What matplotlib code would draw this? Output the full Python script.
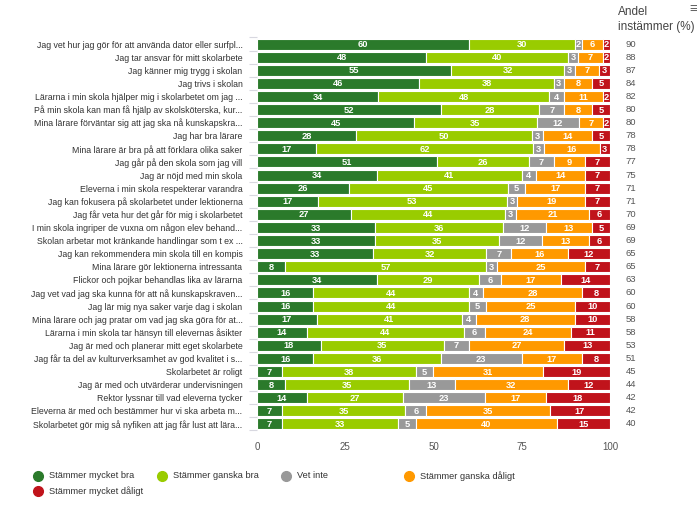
import numpy as np
import matplotlib.pyplot as plt

plt.rcParams['font.family'] = ['Liberation Sans', 'DejaVu Sans']

questions = [
    "Jag vet hur jag gör för att använda dator eller surfpl...",
    "Jag tar ansvar för mitt skolarbete",
    "Jag känner mig trygg i skolan",
    "Jag trivs i skolan",
    "Lärarna i min skola hjälper mig i skolarbetet om jag ...",
    "På min skola kan man få hjälp av skolsköterska, kur...",
    "Mina lärare förväntar sig att jag ska nå kunskapskra...",
    "Jag har bra lärare",
    "Mina lärare är bra på att förklara olika saker",
    "Jag går på den skola som jag vill",
    "Jag är nöjd med min skola",
    "Eleverna i min skola respekterar varandra",
    "Jag kan fokusera på skolarbetet under lektionerna",
    "Jag får veta hur det går för mig i skolarbetet",
    "I min skola ingriper de vuxna om någon elev behand...",
    "Skolan arbetar mot kränkande handlingar som t ex ...",
    "Jag kan rekommendera min skola till en kompis",
    "Mina lärare gör lektionerna intressanta",
    "Flickor och pojkar behandlas lika av lärarna",
    "Jag vet vad jag ska kunna för att nå kunskapskraven...",
    "Jag lär mig nya saker varje dag i skolan",
    "Mina lärare och jag pratar om vad jag ska göra för at...",
    "Lärarna i min skola tar hänsyn till elevernas åsikter",
    "Jag är med och planerar mitt eget skolarbete",
    "Jag får ta del av kulturverksamhet av god kvalitet i s...",
    "Skolarbetet är roligt",
    "Jag är med och utvärderar undervisningen",
    "Rektor lyssnar till vad eleverna tycker",
    "Eleverna är med och bestämmer hur vi ska arbeta m...",
    "Skolarbetet gör mig så nyfiken att jag får lust att lära...",
]

mycket_bra = [60, 48, 55, 46, 34, 52, 45, 28, 17, 51, 34, 26, 17, 27, 33, 33, 33, 8, 34, 16, 16, 17, 14, 18, 16, 7, 8, 14, 7, 7]
ganska_bra = [30, 40, 32, 38, 48, 28, 35, 50, 62, 26, 41, 45, 53, 44, 36, 35, 32, 57, 29, 44, 44, 41, 44, 35, 36, 38, 35, 27, 35, 33]
vet_inte = [2, 3, 3, 3, 4, 7, 12, 3, 3, 7, 4, 5, 3, 3, 12, 12, 7, 3, 6, 4, 5, 4, 6, 7, 23, 5, 13, 23, 6, 5]
ganska_daligt = [6, 7, 7, 8, 11, 8, 7, 14, 16, 9, 14, 17, 19, 21, 13, 13, 16, 25, 17, 28, 25, 28, 24, 27, 17, 31, 32, 17, 35, 40]
mycket_daligt = [2, 2, 3, 5, 2, 5, 2, 5, 3, 7, 7, 7, 7, 6, 5, 6, 12, 7, 14, 8, 10, 10, 11, 13, 8, 19, 12, 18, 17, 15]
andel = [90, 88, 87, 84, 82, 80, 80, 78, 78, 77, 75, 71, 71, 70, 69, 69, 65, 65, 63, 60, 60, 58, 58, 53, 51, 45, 44, 42, 42, 40]

series_names = ["Stämmer mycket bra", "Stämmer ganska bra", "Vet inte",
                "Stämmer ganska dåligt", "Stämmer mycket dåligt"]
colors = ["#2b7a2b", "#99cc00", "#999999", "#ff9900", "#c0131b"]

data = np.array([mycket_bra, ganska_bra, vet_inte, ganska_daligt, mycket_daligt], dtype=float)
shares = data / data.sum(axis=0) * 100

fig = plt.figure(figsize=(6.97, 5.14), dpi=100)
ax = fig.add_axes([0.3687, 0.1625, 0.5065, 0.7646])

y = np.arange(len(questions))
left = np.zeros(len(questions))
for k in range(5):
    ax.barh(y, shares[k], left=left, height=0.84, color=colors[k],
            edgecolor='white', linewidth=0.8)
    for i in range(len(questions)):
        ax.text(left[i] + shares[k][i] / 2, y[i] + 0.05, f"{int(data[k][i])}",
                ha='center', va='center', color='white', fontsize=6.7,
                fontweight='bold')
    left += shares[k]

ax.set_ylim(len(questions) - 0.5, -0.5)
ax.set_xlim(0, 100)
ax.set_yticks(y)
ax.set_yticklabels(questions, fontsize=6.3, color='#333333')
ax.set_yticks(np.arange(len(questions) + 1) - 0.5, minor=True)
ax.tick_params(axis='y', which='major', length=0, pad=10.5)
ax.tick_params(axis='y', which='minor', length=6, color='#d8d8e0', width=0.8)
ax.set_xticks([0, 25, 50, 75, 100])
ax.tick_params(axis='x', length=0, labelsize=7, labelcolor='#555555', pad=8)
for s in ax.spines.values():
    s.set_visible(False)

for i, v in enumerate(andel):
    ax.text(104.5, y[i], str(v), ha='left', va='center', fontsize=6.8, color='#555555')

fig.text(0.887, 0.977, "Andel", ha='left', va='center', fontsize=8.5, color='#444444')
fig.text(0.887, 0.947, "instämmer (%)", ha='left', va='center', fontsize=8.5, color='#444444')
fig.text(0.995, 0.982, "≡", ha='center', va='center', fontsize=10, color='#666666')

xs = [0.055, 0.232, 0.410, 0.587]
for k in range(4):
    fig.lines.append(plt.Line2D([xs[k]], [0.074], marker='o', markersize=7,
                                color=colors[k], transform=fig.transFigure))
    fig.text(xs[k] + 0.016, 0.074, series_names[k], ha='left', va='center',
             fontsize=6.7, color='#333333')
fig.lines.append(plt.Line2D([xs[0]], [0.045], marker='o', markersize=7,
                            color=colors[4], transform=fig.transFigure))
fig.text(xs[0] + 0.016, 0.045, series_names[4], ha='left', va='center',
         fontsize=6.7, color='#333333')

fig.savefig("out.png", dpi=100)
